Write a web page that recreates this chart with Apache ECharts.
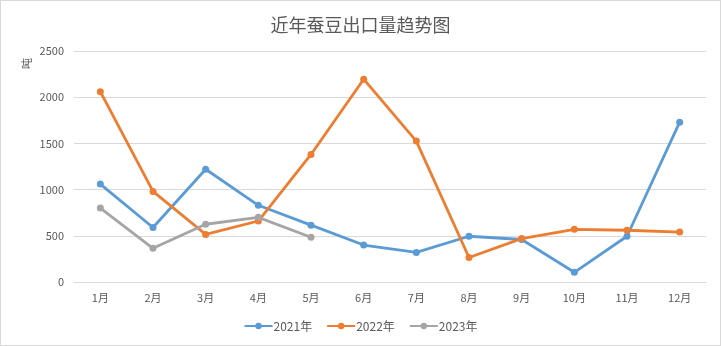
<!DOCTYPE html>
<html>
<head>
<meta charset="utf-8">
<script src="https://cdn.jsdelivr.net/npm/echarts@6/dist/echarts.min.js"></script>
<style>
  html, body { margin: 0; padding: 0; background: #fff; }
  #chart { width: 719px; height: 344px; border: 1px solid #d9d9d9; }
</style>
</head>
<body>
<div id="chart"></div>
<script>
// Monthly broad-bean export volume (tonnes)
const months = ['1月', '2月', '3月', '4月', '5月', '6月', '7月', '8月', '9月', '10月', '11月', '12月'];
const yearNames = ['2021年', '2022年', '2023年'];
const exports2021 = [1060, 590, 1220, 830, 615, 400, 320, 495, 460, 105, 495, 1730];
const exports2022 = [2060, 980, 515, 660, 1380, 2195, 1525, 265, 470, 570, 560, 540];
const exports2023 = [800, 365, 625, 700, 485];
const yTicks = [0, 500, 1000, 1500, 2000, 2500];
const palette = ['#5B9BD5', '#ED7D31', '#A5A5A5'];

const font = '"Noto Sans CJK SC", "Microsoft YaHei", sans-serif';
const textColor = '#595959';

const chart = echarts.init(document.getElementById('chart'));

function lineSeries(name, data, color) {
  return {
    name: name,
    type: 'line',
    data: data,
    symbol: 'circle',
    symbolSize: 7,
    lineStyle: { width: 2.8, color: color },
    itemStyle: { color: color },
    emphasis: { disabled: true }
  };
}

chart.setOption({
  animation: false,
  color: palette,
  textStyle: { fontFamily: font },
  title: {
    text: '近年蚕豆出口量趋势图',
    left: 'center',
    top: 10,
    textStyle: { fontFamily: font, fontSize: 18, fontWeight: 'normal', color: textColor }
  },
  graphic: [{
    type: 'text',
    left: 20,
    top: 57,
    rotation: Math.PI / 2,
    style: { text: '吨', font: '11px ' + font, fill: textColor }
  }],
  legend: {
    bottom: 8,
    left: 'center',
    itemWidth: 28,
    itemHeight: 8,
    itemGap: 14,
    data: yearNames,
    textStyle: { fontFamily: font, fontSize: 12, color: textColor, padding: [0, 0, 0, -4] }
  },
  grid: { left: 73, right: 14, top: 50, bottom: 63 },
  xAxis: {
    type: 'category',
    data: months,
    boundaryGap: true,
    axisLine: { show: true, lineStyle: { color: '#d9d9d9' } },
    axisTick: { show: false },
    axisLabel: { color: textColor, fontSize: 11, margin: 10, fontFamily: font }
  },
  yAxis: {
    type: 'value',
    min: yTicks[0],
    max: yTicks[yTicks.length - 1],
    interval: yTicks[1] - yTicks[0],
    axisLine: { show: false },
    axisTick: { show: false },
    splitLine: { lineStyle: { color: '#d9d9d9', width: 1 } },
    axisLabel: {
      color: textColor, fontSize: 11, margin: 10, fontFamily: font,
      formatter: function (v) { return String(v); }
    }
  },
  series: [
    lineSeries(yearNames[0], exports2021, palette[0]),
    lineSeries(yearNames[1], exports2022, palette[1]),
    lineSeries(yearNames[2], exports2023, palette[2])
  ]
});
</script>
</body>
</html>
